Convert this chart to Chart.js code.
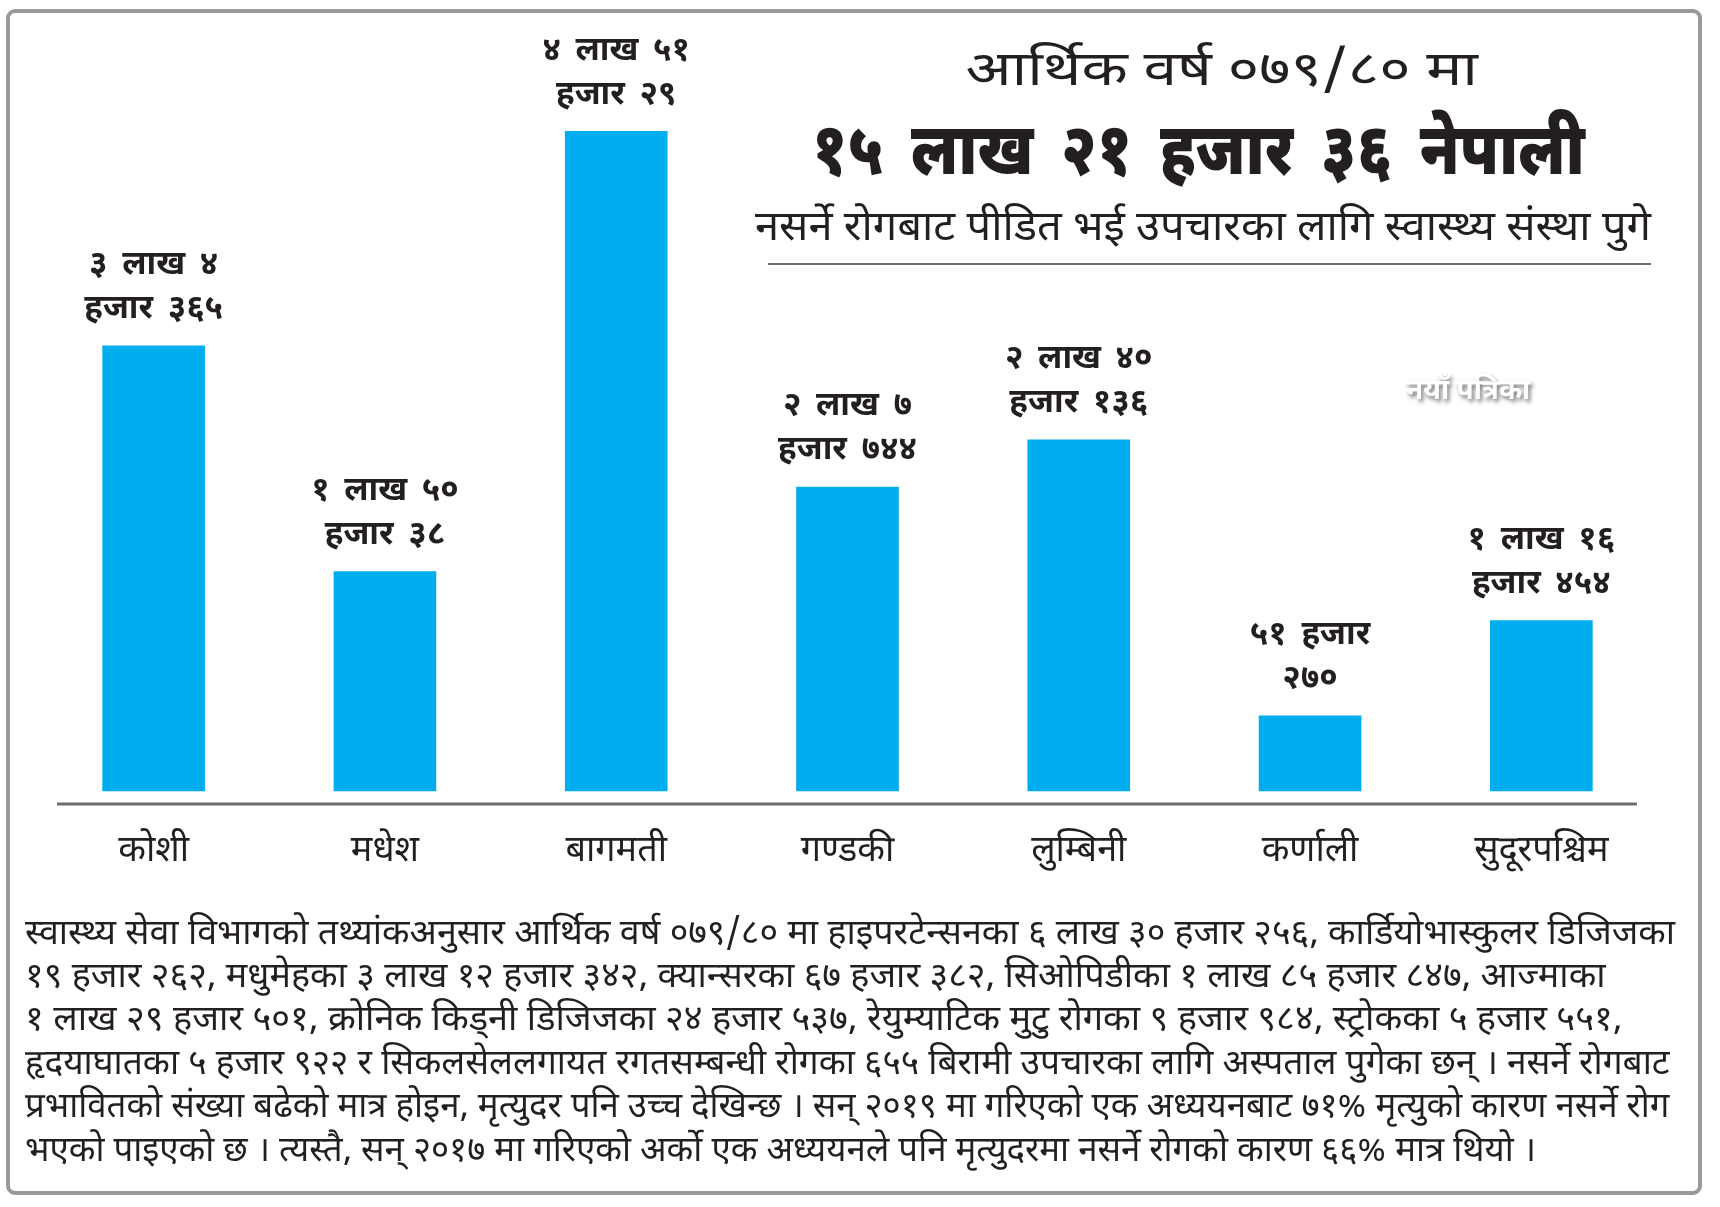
<!DOCTYPE html>
<html>
<head>
<meta charset="utf-8">
<script src="https://cdn.jsdelivr.net/npm/chart.js@4.4.0/dist/chart.umd.min.js"></script>
<style>
  html, body { margin: 0; padding: 0; background: #fff; }
  body { width: 1720px; height: 1207px; position: relative; overflow: hidden;
         font-family: "Noto Sans Devanagari", "Noto Sans", sans-serif; color: #231f20; }
  #frame { position: absolute; left: 6px; top: 9px; width: 1688px; height: 1178px;
           border: 4px solid #999; border-radius: 9px; }
  #chart { position: absolute; left: 0; top: 0; }
  .fit { position: absolute; white-space: nowrap; line-height: 1; }
  .center { transform-origin: center center; }
  .left { transform-origin: left center; }
  #rule { position: absolute; left: 768px; top: 263px; width: 883px; height: 2px; background: #6d6e71; }
  #mark { position: absolute; left: 1406px; top: 374px; font-size: 28px; font-weight: bold; color: #fff;
          text-shadow: 2px 3px 4px rgba(0,0,0,0.55); white-space: nowrap; }
</style>
</head>
<body>
<div id="frame"></div>
<canvas id="chart" width="1720" height="1207"></canvas>

<div class="fit center" data-cx="1221" data-cy="74" data-w="512" style="font-size:48px;">आर्थिक वर्ष ०७९/८० मा</div>
<div class="fit center" data-cx="1198" data-cy="156" data-w="773" style="font-size:72px;font-weight:900;word-spacing:14px;">१५ लाख २१ हजार ३६ नेपाली</div>
<div class="fit center" data-cx="1203" data-cy="230" data-w="896" style="font-size:41px;">नसर्ने रोगबाट पीडित भई उपचारका लागि स्वास्थ्य संस्था पुगे</div>
<div id="rule"></div>
<div id="mark">नयाँ पत्रिका</div>

<div id="para"></div>

<script>
// प्रदेश
const categories = ['कोशी', 'मधेश', 'बागमती', 'गण्डकी', 'लुम्बिनी', 'कर्णाली', 'सुदूरपश्चिम'];
// बिरामी संख्या
const patients = [304365, 150038, 451029, 207744, 240136, 51270, 116454];
// बारमाथिको लेबल (दुई पङ्क्ति)
const labelTop = ['३ लाख ४', '१ लाख ५०', '४ लाख ५१', '२ लाख ७', '२ लाख ४०', '५१ हजार', '१ लाख १६'];
const labelBottom = ['हजार ३६५', 'हजार ३८', 'हजार २९', 'हजार ७४४', 'हजार १३६', '२७०', 'हजार ४५४'];

const paraLines = [
  'स्वास्थ्य सेवा विभागको तथ्यांकअनुसार आर्थिक वर्ष ०७९/८० मा हाइपरटेन्सनका ६ लाख ३० हजार २५६, कार्डियोभास्कुलर डिजिजका',
  '१९ हजार २६२, मधुमेहका ३ लाख १२ हजार ३४२, क्यान्सरका ६७ हजार ३८२, सिओपिडीका १ लाख ८५ हजार ८४७, आज्माका',
  '१ लाख २९ हजार ५०१, क्रोनिक किड्नी डिजिजका २४ हजार ५३७, रेयुम्याटिक मुटु रोगका ९ हजार ९८४, स्ट्रोकका ५ हजार ५५१,',
  'हृदयाघातका ५ हजार ९२२ र सिकलसेललगायत रगतसम्बन्धी रोगका ६५५ बिरामी उपचारका लागि अस्पताल पुगेका छन् । नसर्ने रोगबाट',
  'प्रभावितको संख्या बढेको मात्र होइन, मृत्युदर पनि उच्च देखिन्छ । सन् २०१९ मा गरिएको एक अध्ययनबाट ७१% मृत्युको कारण नसर्ने रोग',
  'भएको पाइएको छ । त्यस्तै, सन् २०१७ मा गरिएको अर्को एक अध्ययनले पनि मृत्युदरमा नसर्ने रोगको कारण ६६% मात्र थियो ।'
];
const paraRight = [1675, 1606, 1622, 1670, 1669, 1536];
const paraY = [935, 978, 1021, 1065, 1108, 1152];

const para = document.getElementById('para');
paraLines.forEach((t, i) => {
  const d = document.createElement('div');
  d.className = 'fit left';
  d.textContent = t;
  d.style.fontSize = '35px';
  d.dataset.lx = 25;
  d.dataset.cy = paraY[i];
  d.dataset.w = paraRight[i] - 25;
  para.appendChild(d);
});

// text लाई चौडाइमा मिलाउने
document.querySelectorAll('.fit').forEach(el => {
  const w = el.offsetWidth, h = el.offsetHeight;
  const s = +el.dataset.w / w;
  if (el.dataset.cx) {
    el.style.left = (+el.dataset.cx - w / 2) + 'px';
  } else {
    el.style.left = el.dataset.lx + 'px';
  }
  el.style.top = (+el.dataset.cy - h / 2) + 'px';
  el.style.transform = 'scaleX(' + s + ')';
});

const barLabels = {
  id: 'barLabels',
  afterDatasetsDraw(chart) {
    const ctx = chart.ctx;
    const meta = chart.getDatasetMeta(0);
    ctx.save();
    ctx.fillStyle = '#231f20';
    ctx.font = 'bold 33px "Noto Sans Devanagari", "Noto Sans", sans-serif';
    ctx.wordSpacing = '6px';
    ctx.textAlign = 'center';
    ctx.textBaseline = 'middle';
    meta.data.forEach((bar, i) => {
      ctx.fillText(labelTop[i], bar.x, bar.y - 78);
      ctx.fillText(labelBottom[i], bar.x, bar.y - 34);
    });
    ctx.restore();
  },
  afterDraw(chart) {
    const { ctx, chartArea } = chart;
    const y = chart.scales.y.getPixelForValue(chart.scales.y.min);
    ctx.save();
    ctx.strokeStyle = '#6d6e71';
    ctx.lineWidth = 3;
    ctx.beginPath();
    ctx.moveTo(chartArea.left + 19, y);
    ctx.lineTo(chartArea.right - 20, y);
    ctx.stroke();
    ctx.restore();
  }
};

new Chart(document.getElementById('chart'), {
  type: 'bar',
  data: {
    labels: categories,
    datasets: [{
      data: patients,
      backgroundColor: '#00aeef',
      borderWidth: 0,
      barThickness: 102
    }]
  },
  options: {
    responsive: false,
    animation: false,
    layout: { padding: { left: 38, right: 63, top: 89, bottom: 313 } },
    plugins: { legend: { display: false }, tooltip: { enabled: false } },
    scales: {
      x: {
        grid: { display: false, drawTicks: false },
        border: { display: false },
        ticks: {
          color: '#231f20',
          padding: 29,
          font: { size: 36, family: '"Noto Sans Devanagari", "Noto Sans", sans-serif' }
        },
        afterFit: s => { s.height = 90; }
      },
      y: {
        display: false,
        min: -9000,
        max: 480000
      }
    }
  },
  plugins: [barLabels]
});
</script>
</body>
</html>
